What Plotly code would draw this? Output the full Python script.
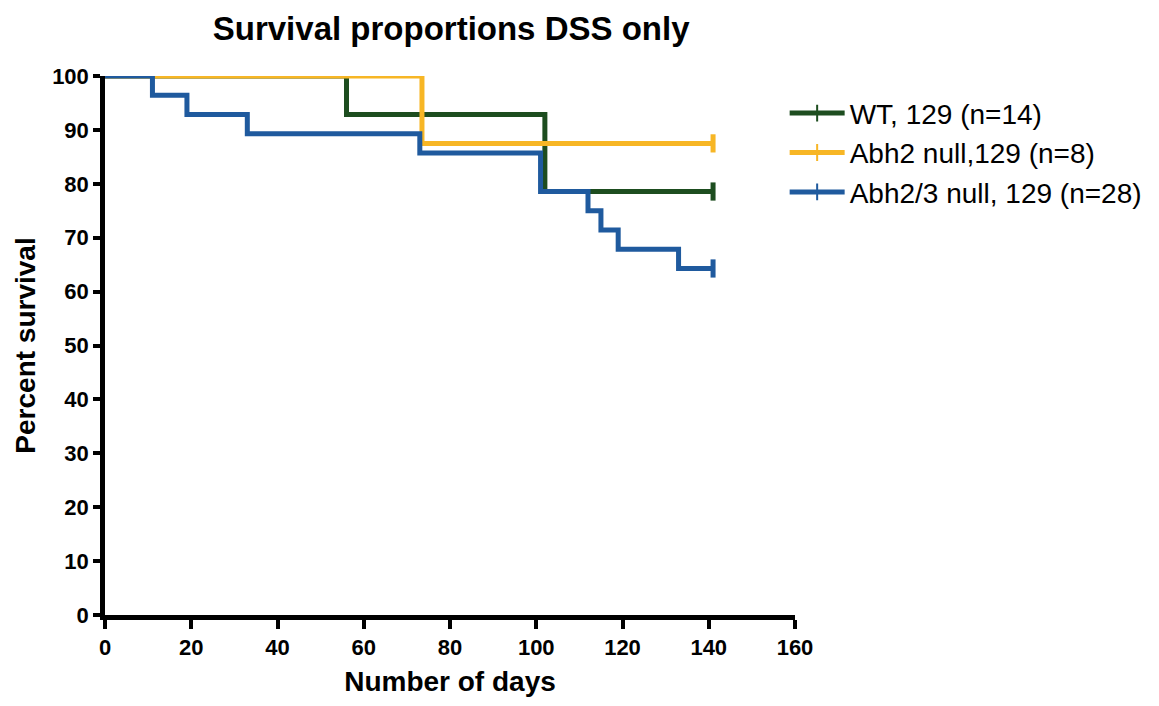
import plotly.graph_objects as go

# Data (Kaplan-Meier steps)
wt_days = [0, 56, 102, 141]
wt_surv = [100, 92.86, 78.57, 78.57]

abh2_days = [0, 73.5, 141]
abh2_surv = [100, 87.5, 87.5]

abh23_days = [0, 11, 19, 33, 73, 101, 112, 115, 119, 133, 141]
abh23_surv = [100, 96.43, 92.86, 89.29, 85.71, 78.57, 75.0, 71.43, 67.86, 64.29, 64.29]

series = [
    ("WT, 129 (n=14)", wt_days, wt_surv, "#1d4d1f"),
    ("Abh2 null,129 (n=8)", abh2_days, abh2_surv, "#f7b625"),
    ("Abh2/3 null, 129 (n=28)", abh23_days, abh23_surv, "#1f5a9e"),
]

x_ticks = [0, 20, 40, 60, 80, 100, 120, 140, 160]
y_ticks = [0, 10, 20, 30, 40, 50, 60, 70, 80, 90, 100]

fig = go.Figure()
for name, xs, ys, col in series:
    sizes = [0] * (len(xs) - 1) + [13]
    fig.add_trace(go.Scatter(
        x=xs, y=ys, name=name, mode="lines+markers",
        line=dict(shape="hv", color=col, width=5),
        marker=dict(symbol="line-ns", size=sizes, color=col, opacity=1,
                    line=dict(color=col, width=5)),
    ))

tickfont = dict(family="Liberation Sans, Arial", size=22, color="black", weight="bold")
titlefont = dict(family="Liberation Sans, Arial", size=28, color="black", weight="bold")

fig.update_layout(
    width=1151, height=698,
    paper_bgcolor="white", plot_bgcolor="white",
    margin=dict(l=97, r=362, t=68, b=87),
    title=dict(text="Survival proportions DSS only", x=0.385, xanchor="center",
               y=0.971, yanchor="middle",
               font=dict(family="Liberation Sans, Arial", size=33, color="black", weight="bold")),
    legend=dict(x=0.985, y=0.977, xanchor="left", yanchor="top",
                font=dict(family="Liberation Sans, Arial", size=28, color="black"),
                bgcolor="rgba(0,0,0,0)", itemwidth=55, itemsizing="constant",
                tracegroupgap=0),
    showlegend=True,
)
fig.update_xaxes(
    range=[0, 160], tickvals=x_ticks, ticktext=[str(v) for v in x_ticks],
    showgrid=False, zeroline=False, showline=True, linecolor="black", linewidth=4.5,
    ticks="outside", ticklen=9, tickwidth=4, tickcolor="black",
    tickfont=tickfont,
    title=dict(text="Number of days", font=titlefont, standoff=14),
)
fig.update_yaxes(
    range=[0, 100], tickvals=y_ticks, ticktext=[str(v) for v in y_ticks],
    showgrid=False, zeroline=False, showline=True, linecolor="black", linewidth=4.5,
    ticks="outside", ticklen=7, tickwidth=4, tickcolor="black",
    tickfont=tickfont,
    title=dict(text="Percent survival", font=titlefont, standoff=10),
)

fig.write_html("out.html")
